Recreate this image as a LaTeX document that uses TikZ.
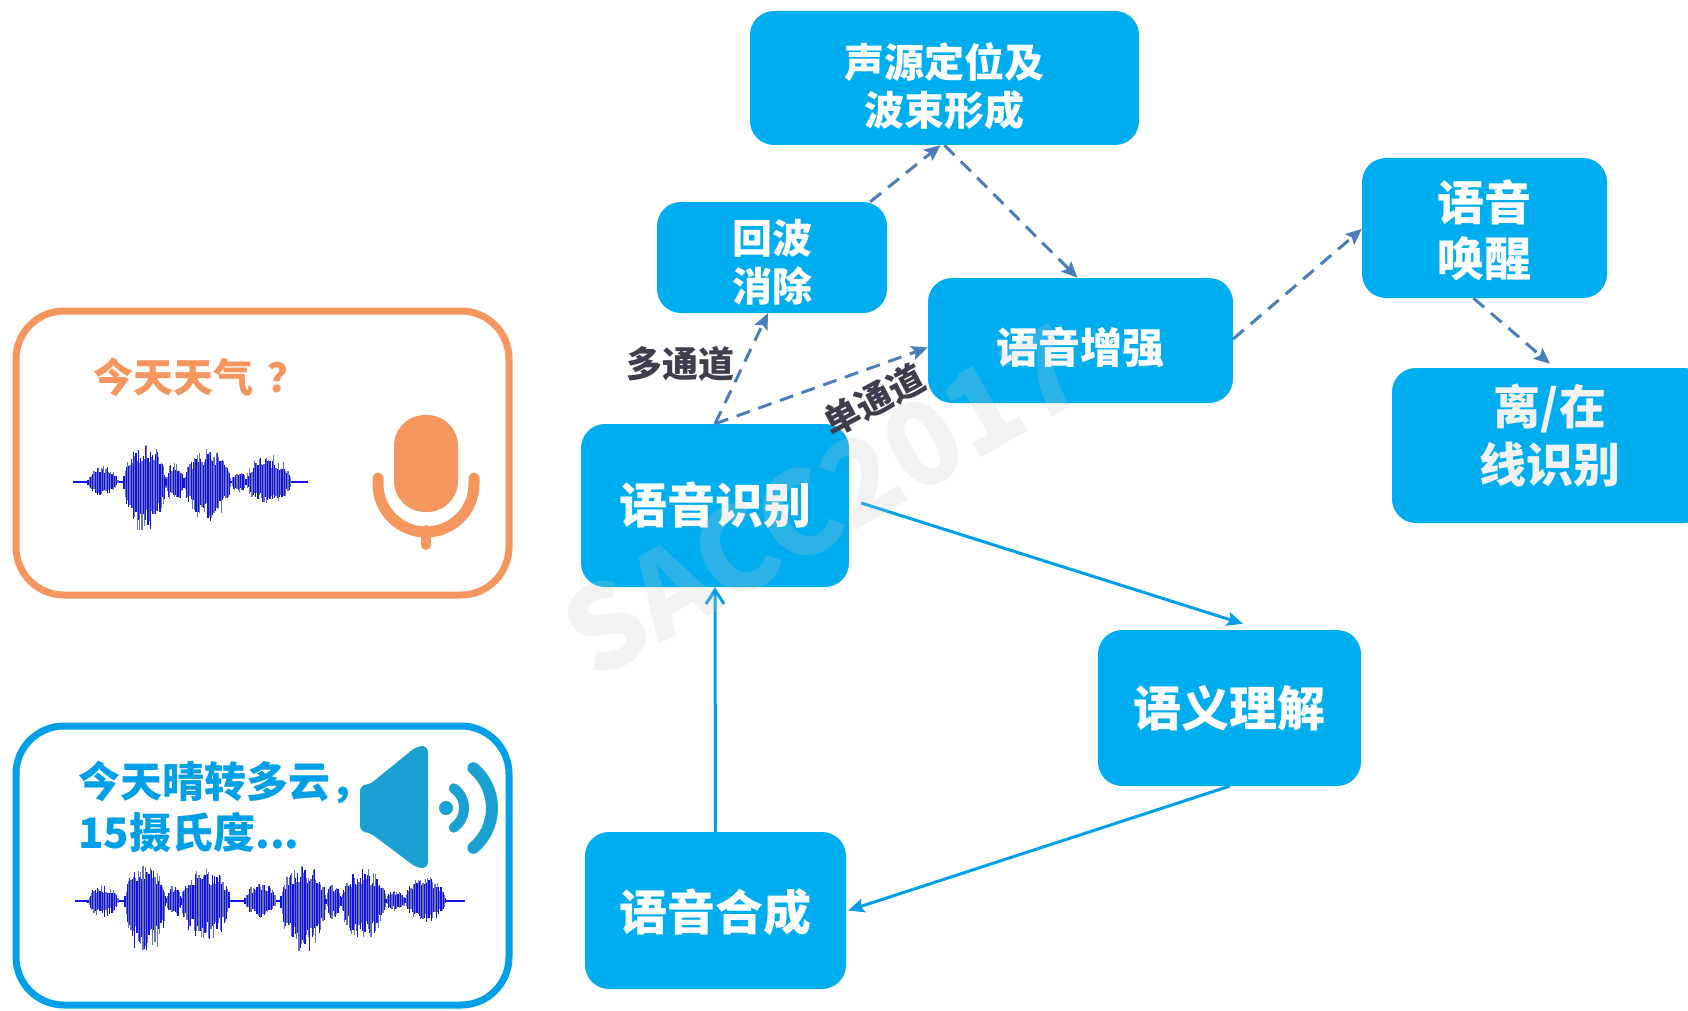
\documentclass[tikz,border=0pt]{standalone}
\usepackage{fontspec}
\setmainfont{Noto Sans CJK SC}[BoldFont={Noto Sans CJK SC Black}]
\usetikzlibrary{arrows.meta}

\definecolor{boxblue}{HTML}{00ADEF}
\definecolor{flowblue}{HTML}{00A0E9}
\definecolor{dashblue}{HTML}{4A7EBB}
\definecolor{peach}{HTML}{F6965F}
\definecolor{spk}{HTML}{1BA0D2}
\definecolor{labelgray}{HTML}{3E3E4E}
\definecolor{waveblue}{HTML}{1010F0}
\definecolor{wavegray}{HTML}{6A74B0}
\definecolor{offwhite}{HTML}{F2F2F2}
\definecolor{markgray}{HTML}{C8C8C8}

\newcommand\fsz[2]{\fontsize{#1pt}{#2pt}\selectfont}

% one burst of a speech waveform: centre y, x from, x to, upper and lower amplitude
\newcommand\wavebump[5]{%
  \pgfmathtruncatemacro\nstrokes{(#3-#2)/1.2}%
  \foreach \i in {0,...,\nstrokes}{%
    \pgfmathsetmacro\wx{#2+1.2*\i}%
    \pgfmathsetmacro\env{pow(max(0.02,sin(180*(\wx-#2)/(#3-#2))),0.45)}%
    \pgfmathsetmacro\up{#4*\env*(0.5+0.5*rnd)}%
    \pgfmathsetmacro\dn{#5*\env*(0.5+0.5*rnd)}%
    \ifodd\i \def\wc{wavegray}\else\def\wc{waveblue}\fi
    \draw[draw=\wc, line width=1.3pt] (\wx,#1-\up) -- (\wx,#1+\dn);
  }%
}

\tikzset{
  stage/.style={fill=boxblue, rounded corners=24pt, inner sep=0pt},
  stagetext/.style={text=white, align=center, inner sep=0pt},
  panel/.style={line width=7pt, rounded corners=48pt, inner sep=0pt},
  dashflow/.style={dashblue, line width=3pt, dash pattern=on 14pt off 9pt,
    -{Stealth[length=16pt,width=14pt,inset=3pt]}},
  solidflow/.style={flowblue, line width=3pt, -{Stealth[length=16pt,width=14pt,inset=3pt]}},
  openflow/.style={flowblue, line width=3pt, -{Straight Barb[length=14pt,width=18pt]}},
  chan/.style={text=labelgray, font=\bfseries\fsz{36}{40}, inner sep=0pt},
}

\begin{document}
\begin{tikzpicture}[x=1pt, y=-1pt]
\useasboundingbox (0,0) rectangle (1688,1011);
\clip (0,0) rectangle (1688,1011);
\fill[white] (0,0) rectangle (1688,1011);
\pgfmathsetseed{11}

% ---------- input panel: spoken question ----------
\node[panel, draw=peach, minimum width=493pt, minimum height=284pt] (askpanel) at (262.5,453) {};
\node[anchor=west, inner sep=0pt, text=peach, font=\bfseries\fsz{40}{44}] (asktext) at (93,377) {今天天气\hspace{14pt}？};
\draw[waveblue, line width=1.3pt] (73,482) -- (308,482);
\wavebump{482}{88}{118}{17}{15}
\wavebump{482}{124}{166}{40}{54}
\wavebump{482}{166}{184}{20}{22}
\wavebump{482}{184}{231}{33}{40}
\wavebump{482}{231}{246}{11}{11}
\wavebump{482}{246}{291}{28}{24}
% microphone
\fill[peach, rounded corners=31pt] (394,415) rectangle (458,512);
\draw[peach, line width=11pt, line cap=round] (378,478) -- (378,484) arc[start angle=180, end angle=0, radius=48] -- (474,478);
\draw[peach, line width=10pt, line cap=round] (426,530) -- (426,545);

% ---------- output panel: spoken answer ----------
\node[panel, draw=flowblue, minimum width=493pt, minimum height=279pt] (answerpanel) at (262.5,865.5) {};
\node[anchor=west, align=left, inner sep=0pt, text=flowblue, font=\bfseries\fsz{42}{51}] (answertext) at (78,807) {今天晴转多云，\\15摄氏度...};
\draw[waveblue, line width=1.3pt] (75,901) -- (465,901);
\wavebump{901}{88}{118}{16}{16}
\wavebump{901}{125}{166}{38}{57}
\wavebump{901}{166}{181}{17}{19}
\wavebump{901}{181}{230}{33}{42}
\wavebump{901}{245}{276}{19}{17}
\wavebump{901}{281}{326}{37}{54}
\wavebump{901}{326}{341}{17}{19}
\wavebump{901}{341}{386}{33}{40}
\wavebump{901}{386}{405}{11}{11}
\wavebump{901}{405}{446}{27}{22}
% loudspeaker
\fill[spk, rounded corners=6pt] (360,785) -- (369,785) -- (417,746) -- (428,746) -- (428,868) -- (417,868) -- (369,832) -- (360,832) -- cycle;
\fill[spk] (446,808) circle[radius=7];
\draw[spk, line width=10pt, line cap=round] (453.8,788.3) arc[start angle=-55, end angle=55, radius=24];
\draw[spk, line width=12pt, line cap=round] (473.4,768.2) arc[start angle=-50, end angle=50, radius=52];

% ---------- processing stages ----------
\node[stage, minimum width=389pt, minimum height=134pt] (src) at (944.5,78) {};
\node[stage, minimum width=230pt, minimum height=111pt] (echo) at (772,257.5) {};
\node[stage, minimum width=305pt, minimum height=125pt] (enh) at (1080.5,340.5) {};
\node[stage, minimum width=245pt, minimum height=140pt] (wake) at (1484.5,228) {};
\node[stage, minimum width=316pt, minimum height=155pt] (offon) at (1550,445.5) {};
\node[stage, minimum width=268pt, minimum height=163pt] (asr) at (715,505.5) {};
\node[stage, minimum width=263pt, minimum height=156pt] (nlu) at (1229.5,708) {};
\node[stage, minimum width=261pt, minimum height=157pt] (tts) at (715.5,910.5) {};

\node[stagetext, font=\bfseries\fsz{40}{48}] (srcT) at ([yshift=-8pt]src.center) {声源定位及\\波束形成};
\node[stagetext, font=\bfseries\fsz{40}{48}] (echoT) at ([yshift=-5pt]echo.center) {回波\\消除};
\node[stagetext, font=\bfseries\fsz{42}{48}] (enhT) at ([yshift=-7pt]enh.center) {语音增强};
\node[stagetext, font=\bfseries\fsz{47}{56}] (wakeT) at ([yshift=-2pt]wake.center) {语音\\唤醒};
\node[stagetext, text=offwhite, font=\bfseries\fsz{47}{58}] (offonT) at ([yshift=10pt]offon.center) {离/在\\线识别};
\node[stagetext, font=\bfseries\fsz{48}{56}] (asrT) at (asr.center) {语音识别};
\node[stagetext, font=\bfseries\fsz{48}{56}] (nluT) at (nlu.center) {语义理解};
\node[stagetext, font=\bfseries\fsz{48}{56}] (ttsT) at ([yshift=-2pt]tts.center) {语音合成};

% ---------- front-end (dashed) links ----------
\draw[dashflow] (asr.north) -- ([xshift=-4pt]echo.south);
\draw[dashflow] (asr.north) -- ([yshift=-7pt]enh.west);
\draw[dashflow] ([xshift=-17pt]echo.north east) -- ([xshift=-4pt]src.south);
\draw[dashflow] (src.south) -- ([xshift=-3pt]enh.north);
\draw[dashflow] ([yshift=1.5pt]enh.east) -- ([yshift=-1pt]wake.west);
\draw[dashflow] ([xshift=-11pt]wake.south) -- ([yshift=4pt]offon.north);

\node[chan] (multi) at (680,364) {多通道};
\node[chan, rotate=28] (single) at (874,400) {单通道};

% ---------- dialogue loop ----------
\draw[solidflow] ([xshift=12pt,yshift=2.5pt]asr.east) -- ([xshift=13.5pt,yshift=6pt]nlu.north);
\draw[solidflow] (nlu.south) -- ([xshift=2pt]tts.east);
\draw[openflow] (tts.north) -- (asr.south);

% faint event mark
\node[rotate=30, text=markgray, opacity=0.22, font=\bfseries\fsz{115}{115}, inner sep=0pt] (eventmark) at (824,500) {SACC2017};
\end{tikzpicture}
\end{document}
